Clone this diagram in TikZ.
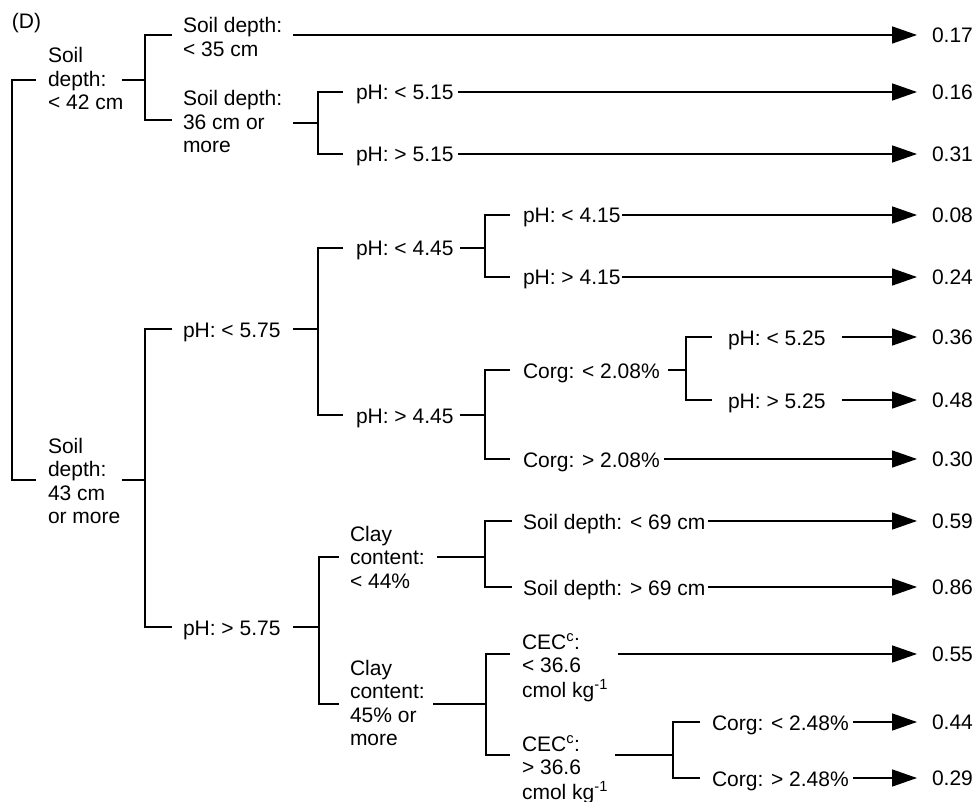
\documentclass[tikz,border=0pt]{standalone}
\usepackage{fontspec}
\setmainfont{Liberation Sans}
\usetikzlibrary{arrows.meta}
\newcommand{\ml}[1]{\begin{tabular}[t]{@{}l@{}}#1\end{tabular}}
\begin{document}
\begin{tikzpicture}[x=1pt,y=-1pt,
  every node/.style={inner sep=0pt, outer sep=0pt, font=\fontsize{21}{23.5}\selectfont},
  lbl/.style={anchor=base west},
  val/.style={anchor=west},
  conn/.style={line width=1.6pt},
  arr/.style={conn, -{Triangle[length=25pt,width=17pt]}}]
\useasboundingbox (0,0) rectangle (977,802);

% ---- text nodes
\node[lbl] (D) at (12,29) {(D)};
\node[lbl] (A) at (48,63) {\ml{Soil\\depth:\\< 42 cm}};
\node[lbl] (A1) at (183,33) {\ml{Soil depth:\\< 35 cm}};
\node[lbl] (A2) at (183,106) {\ml{Soil depth:\\36 cm or\\more}};
\node[lbl] (A21) at (356,100) {pH: < 5.15};
\node[lbl] (A22) at (356,162) {pH: > 5.15};
\node[lbl] (B) at (48,453) {\ml{Soil\\depth:\\43 cm\\or more}};
\node[lbl] (B1) at (183,337) {pH: < 5.75};
\node[lbl] (B11) at (356,256) {pH: < 4.45};
\node[lbl] (B111) at (523,223) {pH: < 4.15};
\node[lbl] (B112) at (523,285) {pH: > 4.15};
\node[lbl] (B12) at (356,423) {pH: > 4.45};
\node[lbl] (B121) at (523,378) {Corg: < 2.08\%};
\node[lbl] (B1211) at (728,345) {pH: < 5.25};
\node[lbl] (B1212) at (728,408) {pH: > 5.25};
\node[lbl] (B122) at (523,467) {Corg: > 2.08\%};
\node[lbl] (B2) at (183,635) {pH: > 5.75};
\node[lbl] (B21) at (350,541) {\ml{Clay\\content:\\< 44\%}};
\node[lbl] (B211) at (523,529) {Soil depth: < 69 cm};
\node[lbl] (B212) at (523,595) {Soil depth: > 69 cm};
\node[lbl] (B22) at (350,675) {\ml{Clay\\content:\\45\% or\\more}};
\node[lbl] (B221) at (522,649) {\ml{CEC\textsuperscript{c}:\\< 36.6\\cmol kg\textsuperscript{-1}}};
\node[lbl] (B222) at (522,751) {\ml{CEC\textsuperscript{c}:\\> 36.6\\cmol kg\textsuperscript{-1}}};
\node[lbl] (B2221) at (712,730) {Corg: < 2.48\%};
\node[lbl] (B2222) at (712,786) {Corg: > 2.48\%};

% ---- leaf values
\node[val] (v1) at (932,35) {0.17};
\node[val] (v2) at (932,92) {0.16};
\node[val] (v3) at (932,154) {0.31};
\node[val] (v4) at (932,215) {0.08};
\node[val] (v5) at (932,277) {0.24};
\node[val] (v6) at (932,337) {0.36};
\node[val] (v7) at (932,400) {0.48};
\node[val] (v8) at (932,459) {0.30};
\node[val] (v9) at (932,521) {0.59};
\node[val] (v10) at (932,587) {0.86};
\node[val] (v11) at (932,654) {0.55};
\node[val] (v12) at (932,722) {0.44};
\node[val] (v13) at (932,778) {0.29};

% ---- connection points
\coordinate (rootj) at (12,280);
\coordinate (A-in) at (36,80);   \coordinate (B-in) at (36,480);
\coordinate (A-out) at (122,80); \coordinate (jA) at (145,80);
\coordinate (A1-in) at (172,35); \coordinate (A2-in) at (172,120);
\coordinate (A1-out) at (293,35);
\coordinate (A2-out) at (293,123); \coordinate (jA2) at (318,123);
\coordinate (A21-in) at (343,92); \coordinate (A22-in) at (343,154);
\coordinate (A21-out) at (458,92); \coordinate (A22-out) at (458,154);
\coordinate (B-out) at (122,480); \coordinate (jB) at (145,480);
\coordinate (B1-in) at (172,329); \coordinate (B2-in) at (172,627);
\coordinate (B1-out) at (293,329); \coordinate (jB1) at (318,329);
\coordinate (B11-in) at (343,248); \coordinate (B12-in) at (343,415);
\coordinate (B11-out) at (460,248); \coordinate (jB11) at (485,248);
\coordinate (B111-in) at (510,215); \coordinate (B112-in) at (510,277);
\coordinate (B111-out) at (622,215); \coordinate (B112-out) at (622,277);
\coordinate (B12-out) at (460,415); \coordinate (jB12) at (485,415);
\coordinate (B121-in) at (510,370); \coordinate (B122-in) at (510,459);
\coordinate (B121-out) at (668,370); \coordinate (jB121) at (686,370);
\coordinate (B1211-in) at (712,337); \coordinate (B1212-in) at (712,400);
\coordinate (B1211-out) at (842,337); \coordinate (B1212-out) at (842,400);
\coordinate (B122-out) at (664,459);
\coordinate (B2-out) at (293,627); \coordinate (jB2) at (319,627);
\coordinate (B21-in) at (339,557); \coordinate (B22-in) at (339,704);
\coordinate (B21-out) at (437,557); \coordinate (jB21) at (485,557);
\coordinate (B211-in) at (512,521); \coordinate (B212-in) at (512,587);
\coordinate (B211-out) at (708,521); \coordinate (B212-out) at (708,587);
\coordinate (B22-out) at (433,704); \coordinate (jB22) at (486,704);
\coordinate (B221-in) at (510,654); \coordinate (B222-in) at (510,755);
\coordinate (B221-out) at (618,654);
\coordinate (B222-out) at (615,755); \coordinate (jB222) at (673,755);
\coordinate (B2221-in) at (700,722); \coordinate (B2222-in) at (700,778);
\coordinate (B2221-out) at (853,722); \coordinate (B2222-out) at (853,778);

% ---- brackets
\draw[conn] (A-in) -| (rootj) |- (B-in);
\draw[conn] (A-out) -- (jA);
\draw[conn] (A1-in) -| (jA) |- (A2-in);
\draw[conn] (A2-out) -- (jA2);
\draw[conn] (A21-in) -| (jA2) |- (A22-in);
\draw[conn] (B-out) -- (jB);
\draw[conn] (B1-in) -| (jB) |- (B2-in);
\draw[conn] (B1-out) -- (jB1);
\draw[conn] (B11-in) -| (jB1) |- (B12-in);
\draw[conn] (B11-out) -- (jB11);
\draw[conn] (B111-in) -| (jB11) |- (B112-in);
\draw[conn] (B12-out) -- (jB12);
\draw[conn] (B121-in) -| (jB12) |- (B122-in);
\draw[conn] (B121-out) -- (jB121);
\draw[conn] (B1211-in) -| (jB121) |- (B1212-in);
\draw[conn] (B2-out) -- (jB2);
\draw[conn] (B21-in) -| (jB2) |- (B22-in);
\draw[conn] (B21-out) -- (jB21);
\draw[conn] (B211-in) -| (jB21) |- (B212-in);
\draw[conn] (B22-out) -- (jB22);
\draw[conn] (B221-in) -| (jB22) |- (B222-in);
\draw[conn] (B222-out) -- (jB222);
\draw[conn] (B2221-in) -| (jB222) |- (B2222-in);

% ---- arrows to leaf values
\draw[arr] (A1-out) -- ([xshift=-15pt]v1.west);
\draw[arr] (A21-out) -- ([xshift=-15pt]v2.west);
\draw[arr] (A22-out) -- ([xshift=-15pt]v3.west);
\draw[arr] (B111-out) -- ([xshift=-15pt]v4.west);
\draw[arr] (B112-out) -- ([xshift=-15pt]v5.west);
\draw[arr] (B1211-out) -- ([xshift=-15pt]v6.west);
\draw[arr] (B1212-out) -- ([xshift=-15pt]v7.west);
\draw[arr] (B122-out) -- ([xshift=-15pt]v8.west);
\draw[arr] (B211-out) -- ([xshift=-15pt]v9.west);
\draw[arr] (B212-out) -- ([xshift=-15pt]v10.west);
\draw[arr] (B221-out) -- ([xshift=-15pt]v11.west);
\draw[arr] (B2221-out) -- ([xshift=-15pt]v12.west);
\draw[arr] (B2222-out) -- ([xshift=-15pt]v13.west);
\end{tikzpicture}
\end{document}
